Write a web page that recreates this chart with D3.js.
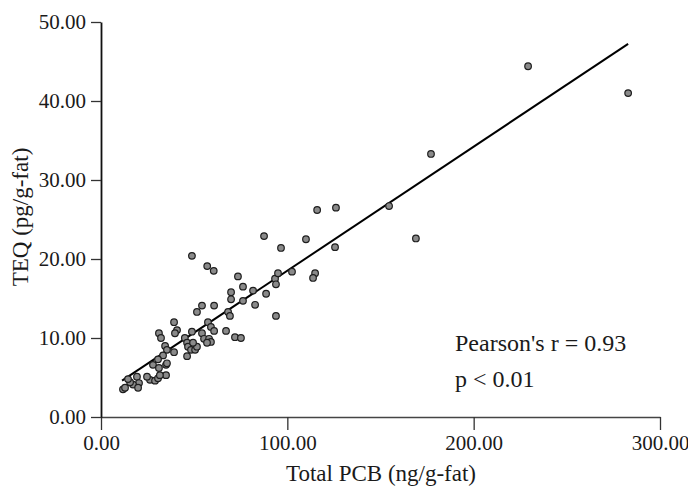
<!DOCTYPE html>
<html>
<head>
<meta charset="utf-8">
<script src="https://cdn.jsdelivr.net/npm/d3@7"></script>
<style>
  body { margin: 0; background: #fff; }
  text { font-family: "Liberation Serif", "Times New Roman", serif; fill: #1a1a1a; }
</style>
</head>
<body>
<script>
// Total PCB (ng/g-fat) vs TEQ (pg/g-fat)
const pcb = [229.2, 282.9, 177.1, 116.0, 126.1, 154.6, 87.5, 110.0, 169.0, 96.6,
  125.6, 48.8, 57.0, 60.5, 73.5, 76.2, 69.8, 69.8, 81.6, 88.6,
  76.2, 93.4, 95.0, 93.9, 102.5, 114.9, 113.8, 82.7, 68.2, 69.2,
  60.7, 54.2, 51.5, 93.9, 67.1, 71.9, 75.1, 39.2, 40.8, 39.7,
  31.1, 32.2, 57.4, 59.0, 60.7, 48.8, 54.2, 55.3, 58.0, 59.0,
  56.9, 45.0, 46.2, 46.7, 48.3, 50.5, 51.5, 49.4, 46.2, 39.2,
  34.4, 35.4, 33.3, 30.6, 27.9, 31.1, 34.9, 34.9, 26.3, 29.0,
  30.6, 19.3, 20.4, 17.2, 15.6, 19.9, 11.8, 14.5, 12.9, 35.4,
  31.6, 24.7];
const teq = [44.4, 41.0, 33.3, 26.2, 26.5, 26.7, 22.9, 22.5, 22.6, 21.4,
  21.5, 20.4, 19.1, 18.5, 17.8, 16.5, 15.8, 14.9, 16.0, 15.6,
  14.7, 17.5, 18.2, 16.8, 18.4, 18.2, 17.6, 14.2, 13.3, 12.8,
  14.1, 14.1, 13.3, 12.8, 10.9, 10.1, 10.0, 12.0, 11.0, 10.6,
  10.6, 10.0, 12.0, 11.4, 10.9, 10.8, 10.6, 9.9, 9.9, 9.5,
  9.4, 10.0, 9.4, 8.9, 8.5, 8.5, 8.9, 9.4, 7.7, 8.2,
  9.0, 8.5, 7.8, 7.3, 6.6, 6.2, 6.6, 5.3, 4.7, 4.6,
  4.9, 5.1, 4.3, 4.1, 4.4, 3.7, 3.5, 4.8, 3.7, 6.8,
  5.3, 5.1];

// fitted line as drawn
const fitSlope = 0.157;
const fitIntercept = 2.82;
const fitRange = [11.3, 282.9];

const xTicks = [0, 100, 200, 300];
const yTicks = [0, 10, 20, 30, 40, 50];
const statLines = ["Pearson's r = 0.93", "p < 0.01"];

const width = 688, height = 490;
const svg = d3.select("body").append("svg")
  .attr("width", width).attr("height", height);

const x = d3.scaleLinear().domain([0, 300]).range([101, 660]);
const y = d3.scaleLinear().domain([0, 50]).range([417, 22]);

// axes
const xAxis = d3.axisBottom(x).tickValues(xTicks).tickFormat(d3.format(".2f"))
  .tickSize(13).tickSizeOuter(0).tickPadding(5);
const yAxis = d3.axisLeft(y).tickValues(yTicks).tickFormat(d3.format(".2f"))
  .tickSize(10).tickSizeOuter(0).tickPadding(5);

const gx = svg.append("g").attr("transform", "translate(0,417)").call(xAxis);
const gy = svg.append("g").attr("transform", "translate(101,0)").call(yAxis);

gx.select(".domain").attr("stroke", "#444").attr("stroke-width", 1.5);
gy.select(".domain").attr("stroke", "#111").attr("stroke-width", 1.8);
gx.selectAll(".tick line").attr("stroke", "#333").attr("stroke-width", 1.3);
gy.selectAll(".tick line").attr("stroke", "#333").attr("stroke-width", 1.3);
svg.selectAll(".tick text")
  .style("font-family", '"Liberation Serif", serif')
  .style("font-size", "21px").attr("fill", "#1a1a1a");

// axis titles
svg.append("text")
  .attr("x", 381).attr("y", 481)
  .attr("text-anchor", "middle")
  .style("font-size", "23px")
  .text("Total PCB (ng/g-fat)");

svg.append("text")
  .attr("transform", "translate(28,217) rotate(-90)")
  .attr("text-anchor", "middle")
  .style("font-size", "23px")
  .text("TEQ (pg/g-fat)");

// regression line
svg.append("line")
  .attr("x1", x(fitRange[0])).attr("y1", y(fitSlope * fitRange[0] + fitIntercept))
  .attr("x2", x(fitRange[1])).attr("y2", y(fitSlope * fitRange[1] + fitIntercept))
  .attr("stroke", "#000").attr("stroke-width", 2);

// points
const pts = pcb.map((d, i) => ({ x: d, y: teq[i] }));
svg.append("g").selectAll("circle").data(pts).enter().append("circle")
  .attr("cx", d => x(d.x))
  .attr("cy", d => y(d.y))
  .attr("r", 3.3)
  .attr("fill", "#8a8a8a")
  .attr("stroke", "#1e1e1e")
  .attr("stroke-width", 1.2);

// statistics
svg.append("g").selectAll("text").data(statLines).enter().append("text")
  .attr("x", 455)
  .attr("y", (d, i) => 351 + i * 36)
  .style("font-size", "24px")
  .text(d => d);
</script>
</body>
</html>
